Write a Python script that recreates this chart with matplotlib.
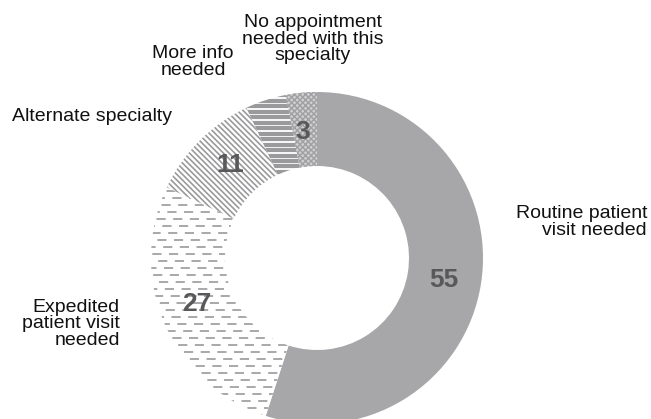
import matplotlib.pyplot as plt
import numpy as np

plt.rcParams['font.family'] = ['Liberation Sans', 'DejaVu Sans']

categories = ['Routine patient\nvisit needed', 'Expedited\npatient visit\nneeded',
              'Alternate specialty', 'More info\nneeded',
              'No appointment\nneeded with this\nspecialty']
values = [55, 27, 11, 4, 3]
shown = ['55', '27', '11', '', '3']

W, H = 651, 419
cx, cy = 317, H - 258
R, r_in = 166, 92
GRAY = '#a7a7a9'
HATCH = '#9a9a9c'
TXT = '#58585a'

fig = plt.figure(figsize=(W / 100, H / 100), dpi=100)
ax = fig.add_axes([0, 0, 1, 1])

plt.rcParams['hatch.linewidth'] = 1.0
wedges, _ = ax.pie(values, startangle=90, counterclock=False, radius=R,
                   center=(cx, cy), frame=True,
                   wedgeprops=dict(width=R - r_in, linewidth=0))
ax.set_xlim(0, W)
ax.set_ylim(0, H)
ax.axis('off')


def line_fill(w, angle, spacing, lw, dashes=None):
    # fill a wedge with parallel lines clipped to its outline
    t = np.deg2rad(angle)
    d = np.array([np.cos(t), np.sin(t)])
    n = np.array([-d[1], d[0]])
    for i, k in enumerate(np.arange(-2 * R, 2 * R, spacing)):
        p0 = np.array([cx, cy]) + n * k - d * 2 * R
        p1 = np.array([cx, cy]) + n * k + d * 2 * R
        ln, = ax.plot([p0[0], p1[0]], [p0[1], p1[1]], color=HATCH, lw=lw,
                      solid_capstyle='butt', dash_capstyle='butt')
        if dashes:
            ln.set_linestyle(((i * 3.5) % sum(dashes), dashes))
        ln.set_clip_path(w)


wedges[0].set_facecolor(GRAY)
wedges[1].set_facecolor('white')
line_fill(wedges[1], 0, 7.0, 1.2, dashes=(5.5, 4.5))
wedges[2].set_facecolor('white')
line_fill(wedges[2], -45, 4.0, 1.2)
wedges[3].set_facecolor('white')
line_fill(wedges[3], 0, 5.5, 3.0)
wedges[4].set_facecolor('#cfcfd1')
wedges[4].set_hatch('xxxxxx')
wedges[4].set_edgecolor('#a0a0a2')

value_pos = [(444, 280), (197, 304), (230, 165), None, (303, 132)]
for s, p in zip(shown, value_pos):
    if s:
        ax.text(p[0], H - p[1], s, ha='center', va='center', fontsize=19,
                fontweight='bold', color=TXT)

label_pos = [(647, 222, 'right'), (120, 324, 'right'), (12, 116, 'left'),
             (193, 62, 'center'), (313, 39, 'center')]
for lab, (x, y, ha) in zip(categories, label_pos):
    ax.text(x, H - y, lab, ha=ha, va='center', fontsize=14,
            color='#111111', linespacing=0.95, multialignment=ha)

fig.savefig('out.png', dpi=100)
